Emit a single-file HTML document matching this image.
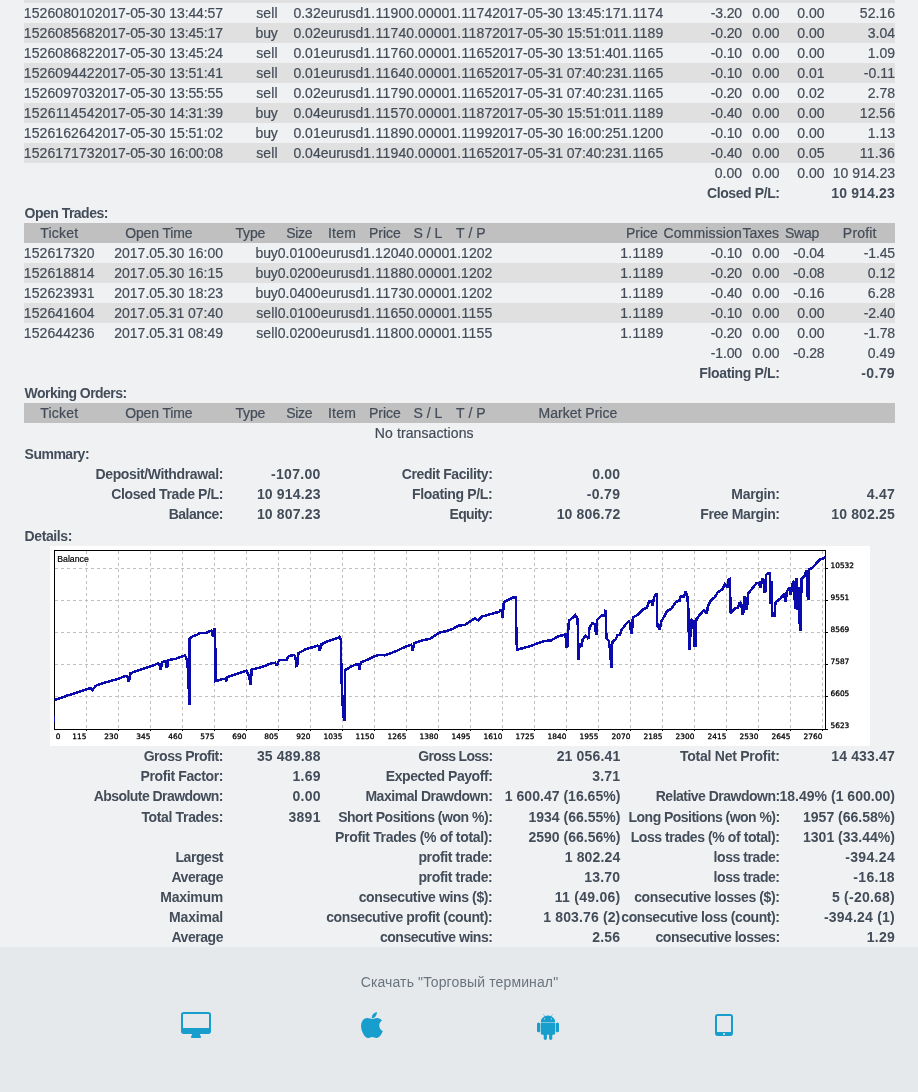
<!DOCTYPE html><html lang="ru"><head><meta charset="utf-8"><title>Statement</title><style>
html,body{margin:0;padding:0}
body{width:918px;height:1092px;overflow:hidden;background:#f0f1f3;position:relative;font-family:"Liberation Sans",sans-serif;font-size:14px;line-height:20px;color:#424b57}
#pg{position:absolute;left:0;top:0;width:918px;height:1092px;will-change:transform}
.s{position:absolute;left:24px;width:871px}
.t{position:absolute;white-space:pre;height:20px;-webkit-text-stroke:.22px #4a535e}
.b{font-weight:700;-webkit-text-stroke:0;color:#434d59}
.chart{position:absolute;left:50px;top:546px}
.ax{font-family:"DejaVu Sans",sans-serif;font-size:7.4px;fill:#000;stroke:#000;stroke-width:.3px}
.foot{position:absolute;left:0;top:947px;width:918px;height:145px;background:#e6e9ec}
.ft{position:absolute;top:972px;color:#6a747e;white-space:pre}
.ic{position:absolute;top:1011.9px;height:28px;fill:#179ecd}
</style></head><body><div id="pg">
<div class="s" style="top:0px;height:3px;background:#e0e0e0"></div>
<div class="s" style="top:23px;height:20px;background:#e0e0e0"></div>
<div class="s" style="top:63px;height:20px;background:#e0e0e0"></div>
<div class="s" style="top:103px;height:20px;background:#e0e0e0"></div>
<div class="s" style="top:143px;height:20px;background:#e0e0e0"></div>
<div class="s" style="top:223px;height:20px;background:#c0c0c0"></div>
<div class="s" style="top:263px;height:20px;background:#e0e0e0"></div>
<div class="s" style="top:303px;height:20px;background:#e0e0e0"></div>
<div class="s" style="top:403px;height:20px;background:#c0c0c0"></div>
<span class="t" style="left:23.87px;top:3px;letter-spacing:0.083px">152608010</span>
<span class="t" style="left:94.84px;top:3px;letter-spacing:-0.097px">2017-05-30 13:44:57</span>
<span class="t" style="left:256.23px;top:3px;letter-spacing:0.113px">sell</span>
<span class="t" style="left:293.4px;top:3px;letter-spacing:0.012px">0.32</span>
<span class="t" style="left:320.67px;top:3px;letter-spacing:-0.013px">eurusd</span>
<span class="t" style="left:363.35px;top:3px;letter-spacing:0.211px">1.1190</span>
<span class="t" style="left:406.35px;top:3px;letter-spacing:0.036px">0.0000</span>
<span class="t" style="left:449.35px;top:3px;letter-spacing:0.211px">1.1174</span>
<span class="t" style="left:492.24px;top:3px;letter-spacing:-0.097px">2017-05-30 13:45:17</span>
<span class="t" style="left:620.35px;top:3px;letter-spacing:0.211px">1.1174</span>
<span class="t" style="left:710.83px;top:3px;letter-spacing:-0.150px">-3.20</span>
<span class="t" style="left:752.3px;top:3px;letter-spacing:0.012px">0.00</span>
<span class="t" style="left:797.2px;top:3px;letter-spacing:0.012px">0.00</span>
<span class="t" style="left:859.83px;top:3px;letter-spacing:0.025px">52.16</span>
<span class="t" style="left:23.87px;top:23px;letter-spacing:0.083px">152608568</span>
<span class="t" style="left:94.84px;top:23px;letter-spacing:-0.097px">2017-05-30 13:45:17</span>
<span class="t" style="left:255.5px;top:23px;letter-spacing:-0.125px">buy</span>
<span class="t" style="left:293.4px;top:23px;letter-spacing:0.012px">0.02</span>
<span class="t" style="left:320.67px;top:23px;letter-spacing:-0.013px">eurusd</span>
<span class="t" style="left:363.35px;top:23px;letter-spacing:0.211px">1.1174</span>
<span class="t" style="left:406.35px;top:23px;letter-spacing:0.036px">0.0000</span>
<span class="t" style="left:449.35px;top:23px;letter-spacing:0.211px">1.1187</span>
<span class="t" style="left:492.24px;top:23px;letter-spacing:-0.097px">2017-05-30 15:51:01</span>
<span class="t" style="left:620.35px;top:23px;letter-spacing:0.211px">1.1189</span>
<span class="t" style="left:710.83px;top:23px;letter-spacing:-0.150px">-0.20</span>
<span class="t" style="left:752.3px;top:23px;letter-spacing:0.012px">0.00</span>
<span class="t" style="left:797.2px;top:23px;letter-spacing:0.012px">0.00</span>
<span class="t" style="left:867.7px;top:23px;letter-spacing:0.012px">3.04</span>
<span class="t" style="left:23.87px;top:43px;letter-spacing:0.083px">152608682</span>
<span class="t" style="left:94.84px;top:43px;letter-spacing:-0.097px">2017-05-30 13:45:24</span>
<span class="t" style="left:256.23px;top:43px;letter-spacing:0.113px">sell</span>
<span class="t" style="left:293.4px;top:43px;letter-spacing:0.012px">0.01</span>
<span class="t" style="left:320.67px;top:43px;letter-spacing:-0.013px">eurusd</span>
<span class="t" style="left:363.35px;top:43px;letter-spacing:0.211px">1.1176</span>
<span class="t" style="left:406.35px;top:43px;letter-spacing:0.036px">0.0000</span>
<span class="t" style="left:449.35px;top:43px;letter-spacing:0.211px">1.1165</span>
<span class="t" style="left:492.24px;top:43px;letter-spacing:-0.097px">2017-05-30 13:51:40</span>
<span class="t" style="left:620.35px;top:43px;letter-spacing:0.211px">1.1165</span>
<span class="t" style="left:710.83px;top:43px;letter-spacing:-0.150px">-0.10</span>
<span class="t" style="left:752.3px;top:43px;letter-spacing:0.012px">0.00</span>
<span class="t" style="left:797.2px;top:43px;letter-spacing:0.012px">0.00</span>
<span class="t" style="left:867.7px;top:43px;letter-spacing:0.012px">1.09</span>
<span class="t" style="left:23.87px;top:63px;letter-spacing:0.083px">152609442</span>
<span class="t" style="left:94.84px;top:63px;letter-spacing:-0.097px">2017-05-30 13:51:41</span>
<span class="t" style="left:256.23px;top:63px;letter-spacing:0.113px">sell</span>
<span class="t" style="left:293.4px;top:63px;letter-spacing:0.012px">0.01</span>
<span class="t" style="left:320.67px;top:63px;letter-spacing:-0.013px">eurusd</span>
<span class="t" style="left:363.35px;top:63px;letter-spacing:0.211px">1.1164</span>
<span class="t" style="left:406.35px;top:63px;letter-spacing:0.036px">0.0000</span>
<span class="t" style="left:449.35px;top:63px;letter-spacing:0.211px">1.1165</span>
<span class="t" style="left:492.24px;top:63px;letter-spacing:-0.097px">2017-05-31 07:40:23</span>
<span class="t" style="left:620.35px;top:63px;letter-spacing:0.211px">1.1165</span>
<span class="t" style="left:710.83px;top:63px;letter-spacing:-0.150px">-0.10</span>
<span class="t" style="left:752.3px;top:63px;letter-spacing:0.012px">0.00</span>
<span class="t" style="left:797.2px;top:63px;letter-spacing:0.012px">0.01</span>
<span class="t" style="left:863.83px;top:63px;letter-spacing:0.059px">-0.11</span>
<span class="t" style="left:23.87px;top:83px;letter-spacing:0.083px">152609703</span>
<span class="t" style="left:94.84px;top:83px;letter-spacing:-0.097px">2017-05-30 13:55:55</span>
<span class="t" style="left:256.23px;top:83px;letter-spacing:0.113px">sell</span>
<span class="t" style="left:293.4px;top:83px;letter-spacing:0.012px">0.02</span>
<span class="t" style="left:320.67px;top:83px;letter-spacing:-0.013px">eurusd</span>
<span class="t" style="left:363.35px;top:83px;letter-spacing:0.211px">1.1179</span>
<span class="t" style="left:406.35px;top:83px;letter-spacing:0.036px">0.0000</span>
<span class="t" style="left:449.35px;top:83px;letter-spacing:0.211px">1.1165</span>
<span class="t" style="left:492.24px;top:83px;letter-spacing:-0.097px">2017-05-31 07:40:23</span>
<span class="t" style="left:620.35px;top:83px;letter-spacing:0.211px">1.1165</span>
<span class="t" style="left:710.83px;top:83px;letter-spacing:-0.150px">-0.20</span>
<span class="t" style="left:752.3px;top:83px;letter-spacing:0.012px">0.00</span>
<span class="t" style="left:797.2px;top:83px;letter-spacing:0.012px">0.02</span>
<span class="t" style="left:867.7px;top:83px;letter-spacing:0.012px">2.78</span>
<span class="t" style="left:23.87px;top:103px;letter-spacing:0.198px">152611454</span>
<span class="t" style="left:94.84px;top:103px;letter-spacing:-0.097px">2017-05-30 14:31:39</span>
<span class="t" style="left:255.5px;top:103px;letter-spacing:-0.125px">buy</span>
<span class="t" style="left:293.4px;top:103px;letter-spacing:0.012px">0.04</span>
<span class="t" style="left:320.67px;top:103px;letter-spacing:-0.013px">eurusd</span>
<span class="t" style="left:363.35px;top:103px;letter-spacing:0.211px">1.1157</span>
<span class="t" style="left:406.35px;top:103px;letter-spacing:0.036px">0.0000</span>
<span class="t" style="left:449.35px;top:103px;letter-spacing:0.211px">1.1187</span>
<span class="t" style="left:492.24px;top:103px;letter-spacing:-0.097px">2017-05-30 15:51:01</span>
<span class="t" style="left:620.35px;top:103px;letter-spacing:0.211px">1.1189</span>
<span class="t" style="left:710.83px;top:103px;letter-spacing:-0.150px">-0.40</span>
<span class="t" style="left:752.3px;top:103px;letter-spacing:0.012px">0.00</span>
<span class="t" style="left:797.2px;top:103px;letter-spacing:0.012px">0.00</span>
<span class="t" style="left:859.83px;top:103px;letter-spacing:0.025px">12.56</span>
<span class="t" style="left:23.87px;top:123px;letter-spacing:0.083px">152616264</span>
<span class="t" style="left:94.84px;top:123px;letter-spacing:-0.097px">2017-05-30 15:51:02</span>
<span class="t" style="left:255.5px;top:123px;letter-spacing:-0.125px">buy</span>
<span class="t" style="left:293.4px;top:123px;letter-spacing:0.012px">0.01</span>
<span class="t" style="left:320.67px;top:123px;letter-spacing:-0.013px">eurusd</span>
<span class="t" style="left:363.35px;top:123px;letter-spacing:0.211px">1.1189</span>
<span class="t" style="left:406.35px;top:123px;letter-spacing:0.036px">0.0000</span>
<span class="t" style="left:449.35px;top:123px;letter-spacing:0.211px">1.1199</span>
<span class="t" style="left:492.24px;top:123px;letter-spacing:-0.097px">2017-05-30 16:00:25</span>
<span class="t" style="left:620.35px;top:123px;letter-spacing:0.036px">1.1200</span>
<span class="t" style="left:710.83px;top:123px;letter-spacing:-0.150px">-0.10</span>
<span class="t" style="left:752.3px;top:123px;letter-spacing:0.012px">0.00</span>
<span class="t" style="left:797.2px;top:123px;letter-spacing:0.012px">0.00</span>
<span class="t" style="left:867.7px;top:123px;letter-spacing:0.012px">1.13</span>
<span class="t" style="left:23.87px;top:143px;letter-spacing:0.083px">152617173</span>
<span class="t" style="left:94.84px;top:143px;letter-spacing:-0.097px">2017-05-30 16:00:08</span>
<span class="t" style="left:256.23px;top:143px;letter-spacing:0.113px">sell</span>
<span class="t" style="left:293.4px;top:143px;letter-spacing:0.012px">0.04</span>
<span class="t" style="left:320.67px;top:143px;letter-spacing:-0.013px">eurusd</span>
<span class="t" style="left:363.35px;top:143px;letter-spacing:0.211px">1.1194</span>
<span class="t" style="left:406.35px;top:143px;letter-spacing:0.036px">0.0000</span>
<span class="t" style="left:449.35px;top:143px;letter-spacing:0.211px">1.1165</span>
<span class="t" style="left:492.24px;top:143px;letter-spacing:-0.097px">2017-05-31 07:40:23</span>
<span class="t" style="left:620.35px;top:143px;letter-spacing:0.211px">1.1165</span>
<span class="t" style="left:710.83px;top:143px;letter-spacing:-0.150px">-0.40</span>
<span class="t" style="left:752.3px;top:143px;letter-spacing:0.012px">0.00</span>
<span class="t" style="left:797.2px;top:143px;letter-spacing:0.012px">0.05</span>
<span class="t" style="left:859.83px;top:143px;letter-spacing:0.234px">11.36</span>
<span class="t" style="left:714.7px;top:163px;letter-spacing:0.012px">0.00</span>
<span class="t" style="left:752.3px;top:163px;letter-spacing:0.012px">0.00</span>
<span class="t" style="left:797.2px;top:163px;letter-spacing:0.012px">0.00</span>
<span class="t" style="left:832.75px;top:163px;letter-spacing:-0.005px">10 914.23</span>
<span class="t b" style="left:706.98px;top:183px;letter-spacing:-0.399px">Closed P/L:</span>
<span class="t b" style="left:831.23px;top:183px;letter-spacing:0.163px">10 914.23</span>
<span class="t b" style="left:24.6px;top:203px;letter-spacing:-0.520px">Open Trades:</span>
<span class="t" style="left:40.32px;top:223px;letter-spacing:0.206px">Ticket</span>
<span class="t" style="left:125.19px;top:223px;letter-spacing:-0.130px">Open Time</span>
<span class="t" style="left:235.46px;top:223px;letter-spacing:-0.145px">Type</span>
<span class="t" style="left:286.21px;top:223px;letter-spacing:-0.312px">Size</span>
<span class="t" style="left:328px;top:223px;letter-spacing:0.215px">Item</span>
<span class="t" style="left:369.03px;top:223px;letter-spacing:-0.034px">Price</span>
<span class="t" style="left:413.61px;top:223px;letter-spacing:-0.044px">S / L</span>
<span class="t" style="left:456.08px;top:223px;letter-spacing:0.066px">T / P</span>
<span class="t" style="left:626.03px;top:223px;letter-spacing:-0.034px">Price</span>
<span class="t" style="left:663.38px;top:223px;letter-spacing:0.163px">Commission</span>
<span class="t" style="left:742.47px;top:223px;letter-spacing:0.016px">Taxes</span>
<span class="t" style="left:784.89px;top:223px;letter-spacing:-0.180px">Swap</span>
<span class="t" style="left:842.87px;top:223px;letter-spacing:0.180px">Profit</span>
<span class="t" style="left:23.87px;top:243px;letter-spacing:0.083px">152617320</span>
<span class="t" style="left:114.33px;top:243px;letter-spacing:-0.021px">2017.05.30 16:00</span>
<span class="t" style="left:255.5px;top:243px;letter-spacing:-0.125px">buy</span>
<span class="t" style="left:277.65px;top:243px;letter-spacing:0.036px">0.0100</span>
<span class="t" style="left:320.67px;top:243px;letter-spacing:-0.013px">eurusd</span>
<span class="t" style="left:363.35px;top:243px;letter-spacing:0.036px">1.1204</span>
<span class="t" style="left:406.35px;top:243px;letter-spacing:0.036px">0.0000</span>
<span class="t" style="left:449.35px;top:243px;letter-spacing:0.036px">1.1202</span>
<span class="t" style="left:620.35px;top:243px;letter-spacing:0.211px">1.1189</span>
<span class="t" style="left:710.83px;top:243px;letter-spacing:-0.150px">-0.10</span>
<span class="t" style="left:752.3px;top:243px;letter-spacing:0.012px">0.00</span>
<span class="t" style="left:793.33px;top:243px;letter-spacing:-0.150px">-0.04</span>
<span class="t" style="left:863.83px;top:243px;letter-spacing:-0.150px">-1.45</span>
<span class="t" style="left:23.87px;top:263px;letter-spacing:0.083px">152618814</span>
<span class="t" style="left:114.33px;top:263px;letter-spacing:-0.021px">2017.05.30 16:15</span>
<span class="t" style="left:255.5px;top:263px;letter-spacing:-0.125px">buy</span>
<span class="t" style="left:277.65px;top:263px;letter-spacing:0.036px">0.0200</span>
<span class="t" style="left:320.67px;top:263px;letter-spacing:-0.013px">eurusd</span>
<span class="t" style="left:363.35px;top:263px;letter-spacing:0.211px">1.1188</span>
<span class="t" style="left:406.35px;top:263px;letter-spacing:0.036px">0.0000</span>
<span class="t" style="left:449.35px;top:263px;letter-spacing:0.036px">1.1202</span>
<span class="t" style="left:620.35px;top:263px;letter-spacing:0.211px">1.1189</span>
<span class="t" style="left:710.83px;top:263px;letter-spacing:-0.150px">-0.20</span>
<span class="t" style="left:752.3px;top:263px;letter-spacing:0.012px">0.00</span>
<span class="t" style="left:793.33px;top:263px;letter-spacing:-0.150px">-0.08</span>
<span class="t" style="left:867.7px;top:263px;letter-spacing:0.012px">0.12</span>
<span class="t" style="left:23.87px;top:283px;letter-spacing:0.083px">152623931</span>
<span class="t" style="left:114.33px;top:283px;letter-spacing:-0.021px">2017.05.30 18:23</span>
<span class="t" style="left:255.5px;top:283px;letter-spacing:-0.125px">buy</span>
<span class="t" style="left:277.65px;top:283px;letter-spacing:0.036px">0.0400</span>
<span class="t" style="left:320.67px;top:283px;letter-spacing:-0.013px">eurusd</span>
<span class="t" style="left:363.35px;top:283px;letter-spacing:0.211px">1.1173</span>
<span class="t" style="left:406.35px;top:283px;letter-spacing:0.036px">0.0000</span>
<span class="t" style="left:449.35px;top:283px;letter-spacing:0.036px">1.1202</span>
<span class="t" style="left:620.35px;top:283px;letter-spacing:0.211px">1.1189</span>
<span class="t" style="left:710.83px;top:283px;letter-spacing:-0.150px">-0.40</span>
<span class="t" style="left:752.3px;top:283px;letter-spacing:0.012px">0.00</span>
<span class="t" style="left:793.33px;top:283px;letter-spacing:-0.150px">-0.16</span>
<span class="t" style="left:867.7px;top:283px;letter-spacing:0.012px">6.28</span>
<span class="t" style="left:23.87px;top:303px;letter-spacing:0.083px">152641604</span>
<span class="t" style="left:114.33px;top:303px;letter-spacing:-0.021px">2017.05.31 07:40</span>
<span class="t" style="left:256.23px;top:303px;letter-spacing:0.113px">sell</span>
<span class="t" style="left:277.65px;top:303px;letter-spacing:0.036px">0.0100</span>
<span class="t" style="left:320.67px;top:303px;letter-spacing:-0.013px">eurusd</span>
<span class="t" style="left:363.35px;top:303px;letter-spacing:0.211px">1.1165</span>
<span class="t" style="left:406.35px;top:303px;letter-spacing:0.036px">0.0000</span>
<span class="t" style="left:449.35px;top:303px;letter-spacing:0.211px">1.1155</span>
<span class="t" style="left:620.35px;top:303px;letter-spacing:0.211px">1.1189</span>
<span class="t" style="left:710.83px;top:303px;letter-spacing:-0.150px">-0.10</span>
<span class="t" style="left:752.3px;top:303px;letter-spacing:0.012px">0.00</span>
<span class="t" style="left:797.2px;top:303px;letter-spacing:0.012px">0.00</span>
<span class="t" style="left:863.83px;top:303px;letter-spacing:-0.150px">-2.40</span>
<span class="t" style="left:23.87px;top:323px;letter-spacing:0.083px">152644236</span>
<span class="t" style="left:114.33px;top:323px;letter-spacing:-0.021px">2017.05.31 08:49</span>
<span class="t" style="left:256.23px;top:323px;letter-spacing:0.113px">sell</span>
<span class="t" style="left:277.65px;top:323px;letter-spacing:0.036px">0.0200</span>
<span class="t" style="left:320.67px;top:323px;letter-spacing:-0.013px">eurusd</span>
<span class="t" style="left:363.35px;top:323px;letter-spacing:0.211px">1.1180</span>
<span class="t" style="left:406.35px;top:323px;letter-spacing:0.036px">0.0000</span>
<span class="t" style="left:449.35px;top:323px;letter-spacing:0.211px">1.1155</span>
<span class="t" style="left:620.35px;top:323px;letter-spacing:0.211px">1.1189</span>
<span class="t" style="left:710.83px;top:323px;letter-spacing:-0.150px">-0.20</span>
<span class="t" style="left:752.3px;top:323px;letter-spacing:0.012px">0.00</span>
<span class="t" style="left:797.2px;top:323px;letter-spacing:0.012px">0.00</span>
<span class="t" style="left:863.83px;top:323px;letter-spacing:-0.150px">-1.78</span>
<span class="t" style="left:710.83px;top:343px;letter-spacing:-0.150px">-1.00</span>
<span class="t" style="left:752.3px;top:343px;letter-spacing:0.012px">0.00</span>
<span class="t" style="left:793.33px;top:343px;letter-spacing:-0.150px">-0.28</span>
<span class="t" style="left:867.7px;top:343px;letter-spacing:0.012px">0.49</span>
<span class="t b" style="left:699.3px;top:363px;letter-spacing:-0.344px">Floating P/L:</span>
<span class="t b" style="left:861.31px;top:363px;letter-spacing:0.353px">-0.79</span>
<span class="t b" style="left:24.6px;top:383px;letter-spacing:-0.551px">Working Orders:</span>
<span class="t" style="left:40.32px;top:403px;letter-spacing:0.206px">Ticket</span>
<span class="t" style="left:125.19px;top:403px;letter-spacing:-0.130px">Open Time</span>
<span class="t" style="left:235.46px;top:403px;letter-spacing:-0.145px">Type</span>
<span class="t" style="left:286.21px;top:403px;letter-spacing:-0.312px">Size</span>
<span class="t" style="left:328px;top:403px;letter-spacing:0.215px">Item</span>
<span class="t" style="left:369.03px;top:403px;letter-spacing:-0.034px">Price</span>
<span class="t" style="left:413.61px;top:403px;letter-spacing:-0.044px">S / L</span>
<span class="t" style="left:456.08px;top:403px;letter-spacing:0.066px">T / P</span>
<span class="t" style="left:538.52px;top:403px;letter-spacing:0.014px">Market Price</span>
<span class="t" style="left:374.78px;top:423px;letter-spacing:0.110px">No transactions</span>
<span class="t b" style="left:24.6px;top:444px;letter-spacing:-0.502px">Summary:</span>
<span class="t b" style="left:95.5px;top:464px;letter-spacing:-0.365px">Deposit/Withdrawal:</span>
<span class="t b" style="left:270.95px;top:464px;letter-spacing:0.324px">-107.00</span>
<span class="t b" style="left:401.79px;top:464px;letter-spacing:-0.415px">Credit Facility:</span>
<span class="t b" style="left:592.23px;top:464px;letter-spacing:0.230px">0.00</span>
<span class="t b" style="left:111.22px;top:484px;letter-spacing:-0.381px">Closed Trade P/L:</span>
<span class="t b" style="left:256.93px;top:484px;letter-spacing:0.163px">10 914.23</span>
<span class="t b" style="left:412.1px;top:484px;letter-spacing:-0.344px">Floating P/L:</span>
<span class="t b" style="left:586.71px;top:484px;letter-spacing:0.353px">-0.79</span>
<span class="t b" style="left:731.35px;top:484px;letter-spacing:-0.330px">Margin:</span>
<span class="t b" style="left:866.83px;top:484px;letter-spacing:0.230px">4.47</span>
<span class="t b" style="left:168.72px;top:504px;letter-spacing:-0.510px">Balance:</span>
<span class="t b" style="left:256.93px;top:504px;letter-spacing:0.163px">10 807.23</span>
<span class="t b" style="left:449.48px;top:504px;letter-spacing:-0.647px">Equity:</span>
<span class="t b" style="left:556.63px;top:504px;letter-spacing:0.163px">10 806.72</span>
<span class="t b" style="left:700.24px;top:504px;letter-spacing:-0.388px">Free Margin:</span>
<span class="t b" style="left:831.23px;top:504px;letter-spacing:0.163px">10 802.25</span>
<span class="t b" style="left:24.6px;top:525.5px;letter-spacing:-0.393px">Details:</span>
<span class="t b" style="left:143.7px;top:746px;letter-spacing:-0.483px">Gross Profit:</span>
<span class="t b" style="left:256.93px;top:746px;letter-spacing:0.163px">35 489.88</span>
<span class="t b" style="left:418.37px;top:746px;letter-spacing:-0.697px">Gross Loss:</span>
<span class="t b" style="left:556.63px;top:746px;letter-spacing:0.163px">21 056.41</span>
<span class="t b" style="left:680.07px;top:746px;letter-spacing:-0.261px">Total Net Profit:</span>
<span class="t b" style="left:831.23px;top:746px;letter-spacing:0.163px">14 433.47</span>
<span class="t b" style="left:140.62px;top:766px;letter-spacing:-0.394px">Profit Factor:</span>
<span class="t b" style="left:292.53px;top:766px;letter-spacing:0.230px">1.69</span>
<span class="t b" style="left:385.85px;top:766px;letter-spacing:-0.440px">Expected Payoff:</span>
<span class="t b" style="left:592.23px;top:766px;letter-spacing:0.230px">3.71</span>
<span class="t b" style="left:93.67px;top:786px;letter-spacing:-0.550px">Absolute Drawdown:</span>
<span class="t b" style="left:292.53px;top:786px;letter-spacing:0.230px">0.00</span>
<span class="t b" style="left:365.38px;top:786px;letter-spacing:-0.446px">Maximal Drawdown:</span>
<span class="t b" style="left:504.84px;top:786px;letter-spacing:0.021px">1 600.47 (16.65%)</span>
<span class="t b" style="left:655.76px;top:786px;letter-spacing:-0.510px">Relative Drawdown:</span>
<span class="t b" style="left:779.44px;top:786px;letter-spacing:0.021px">18.49% (1 600.00)</span>
<span class="t b" style="left:141.38px;top:807px;letter-spacing:-0.344px">Total Trades:</span>
<span class="t b" style="left:288.56px;top:807px;letter-spacing:0.246px">3891</span>
<span class="t b" style="left:338.13px;top:807px;letter-spacing:-0.475px">Short Positions (won %):</span>
<span class="t b" style="left:528.43px;top:807px;letter-spacing:0.010px">1934 (66.55%)</span>
<span class="t b" style="left:628.58px;top:807px;letter-spacing:-0.535px">Long Positions (won %):</span>
<span class="t b" style="left:803.03px;top:807px;letter-spacing:0.010px">1957 (66.58%)</span>
<span class="t b" style="left:335.09px;top:827px;letter-spacing:-0.339px">Profit Trades (% of total):</span>
<span class="t b" style="left:528.43px;top:827px;letter-spacing:0.010px">2590 (66.56%)</span>
<span class="t b" style="left:630.65px;top:827px;letter-spacing:-0.421px">Loss trades (% of total):</span>
<span class="t b" style="left:803.03px;top:827px;letter-spacing:0.010px">1301 (33.44%)</span>
<span class="t b" style="left:175.44px;top:847px;letter-spacing:-0.431px">Largest</span>
<span class="t b" style="left:418.43px;top:847px;letter-spacing:-0.353px">profit trade:</span>
<span class="t b" style="left:564.67px;top:847px;letter-spacing:0.154px">1 802.24</span>
<span class="t b" style="left:713.6px;top:847px;letter-spacing:-0.438px">loss trade:</span>
<span class="t b" style="left:845.25px;top:847px;letter-spacing:0.324px">-394.24</span>
<span class="t b" style="left:171.42px;top:867px;letter-spacing:-0.453px">Average</span>
<span class="t b" style="left:418.43px;top:867px;letter-spacing:-0.353px">profit trade:</span>
<span class="t b" style="left:584.2px;top:867px;letter-spacing:0.231px">13.70</span>
<span class="t b" style="left:713.6px;top:867px;letter-spacing:-0.438px">loss trade:</span>
<span class="t b" style="left:853.28px;top:867px;letter-spacing:0.336px">-16.18</span>
<span class="t b" style="left:160.33px;top:887px;letter-spacing:-0.272px">Maximum</span>
<span class="t b" style="left:358.68px;top:887px;letter-spacing:-0.375px">consecutive wins ($):</span>
<span class="t b" style="left:554.85px;top:887px;letter-spacing:0.248px">11 (49.06)</span>
<span class="t b" style="left:634.18px;top:887px;letter-spacing:-0.376px">consecutive losses ($):</span>
<span class="t b" style="left:831.97px;top:887px;letter-spacing:0.233px">5 (-20.68)</span>
<span class="t b" style="left:169.09px;top:907px;letter-spacing:-0.192px">Maximal</span>
<span class="t b" style="left:326.15px;top:907px;letter-spacing:-0.382px">consecutive profit (count):</span>
<span class="t b" style="left:543.34px;top:907px;letter-spacing:0.130px">1 803.76 (2)</span>
<span class="t b" style="left:621.33px;top:907px;letter-spacing:-0.422px">consecutive loss (count):</span>
<span class="t b" style="left:823.94px;top:907px;letter-spacing:0.234px">-394.24 (1)</span>
<span class="t b" style="left:171.42px;top:927px;letter-spacing:-0.453px">Average</span>
<span class="t b" style="left:380.01px;top:927px;letter-spacing:-0.483px">consecutive wins:</span>
<span class="t b" style="left:592.23px;top:927px;letter-spacing:0.230px">2.56</span>
<span class="t b" style="left:655.49px;top:927px;letter-spacing:-0.471px">consecutive losses:</span>
<span class="t b" style="left:866.83px;top:927px;letter-spacing:0.230px">1.29</span>
<svg class="chart" width="820" height="200" viewBox="0 0 820 200"><rect width="820" height="200" fill="#fff"/><path d="M36.5 5V183M68.5 5V183M100.5 5V183M132.5 5V183M164.5 5V183M196.5 5V183M228.5 5V183M260.5 5V183M292.5 5V183M324.5 5V183M356.5 5V183M388.5 5V183M420.5 5V183M452.5 5V183M484.5 5V183M516.5 5V183M548.5 5V183M580.5 5V183M612.5 5V183M644.5 5V183M676.5 5V183M708.5 5V183M740.5 5V183M772.5 5V183M5 22.5H775M5 54.5H775M5 86.5H775M5 118.5H775M5 150.5H775" stroke="#c0c0c0" stroke-width="1" stroke-dasharray="3 3" fill="none" shape-rendering="crispEdges"/><path d="M4.5 4.5H775.5V183.5H4.5ZM36.5 183V185M68.5 183V185M100.5 183V185M132.5 183V185M164.5 183V185M196.5 183V185M228.5 183V185M260.5 183V185M292.5 183V185M324.5 183V185M356.5 183V185M388.5 183V185M420.5 183V185M452.5 183V185M484.5 183V185M516.5 183V185M548.5 183V185M580.5 183V185M612.5 183V185M644.5 183V185M676.5 183V185M708.5 183V185M740.5 183V185M772.5 183V185M775 22.5H778M775 54.5H778M775 86.5H778M775 118.5H778M775 150.5H778M775 183.5H778" stroke="#000" stroke-width="1" fill="none" shape-rendering="crispEdges"/><path d="M4.5,154.2 17.4,149.5 36.6,143.4 40.4,142.0 42.2,144.3 45.7,139.8 55.8,136.3 68.5,132.8 75.8,129.8 77.6,130.5 78.1,135.0 79.0,135.0 80.5,127.2 90.6,123.7 100.6,120.2 108.1,117.6 109.6,118.5 110.2,123.2 111.0,123.2 111.9,115.9 115.6,115.5 116.4,121.1 117.2,121.1 118.2,114.1 125.5,112.9 135.1,109.4 136.8,114.1 138.0,123.7 138.9,146.4 139.0,158.2 139.8,158.2 139.6,92.3 142.9,90.1 145.7,89.4 149.9,87.1 156.1,86.8 161.4,84.5 162.8,90.3 164.3,83.5 164.9,82.4 165.4,109.8 165.7,135.0 171.8,133.3 175.6,132.6 176.2,135.6 177.1,131.0 185.8,128.4 196.2,124.6 199.4,130.7 200.2,137.3 201.0,137.3 201.5,123.7 211.9,121.1 220.6,117.6 225.0,116.7 226.7,119.4 229.3,114.1 236.3,114.1 238.9,110.1 244.2,108.9 245.6,112.0 246.4,120.2 247.2,120.0 248.5,107.2 255.5,103.3 267.7,99.7 269.0,100.5 269.8,105.1 271.5,98.4 278.1,95.0 287.9,91.9 289.3,90.7 291.0,93.7 291.4,129.4 292.8,160.8 293.9,173.8 294.7,173.8 294.9,124.2 301.8,120.2 307.1,118.1 308.7,119.0 309.3,123.8 310.9,116.3 317.5,113.7 324.5,110.2 329.7,108.8 334.9,109.4 347.1,104.7 356.7,100.1 361.1,98.9 361.9,100.0 362.5,105.0 364.2,97.2 373.3,94.2 380.3,92.8 389.0,86.7 395.9,85.3 402.9,82.9 408.2,79.7 415.1,78.9 420.0,75.4 424.9,72.5 428.3,74.5 431.8,70.7 442.3,67.6 449.3,65.8 450.7,63.2 452.0,66.0 452.7,71.9 453.8,56.2 459.7,53.3 463.2,51.5 466.2,51.5 466.2,78.0 466.9,103.8 473.7,101.9 480.6,100.2 487.6,97.2 494.6,94.9 500.7,94.6 508.5,90.2 515.5,88.5 516.5,100.3 517.3,100.3 518.1,86.7 519.0,74.5 522.5,71.9 525.1,69.0 527.7,72.8 528.2,112.9 529.0,112.9 529.4,97.2 531.5,100.7 532.6,93.7 535.5,89.4 538.5,92.8 539.5,81.5 542.5,77.2 545.1,78.0 545.9,87.6 546.7,87.6 547.2,73.7 551.8,69.4 554.4,69.8 555.7,63.7 556.4,92.4 558.8,95.0 560.5,106.4 561.0,120.3 561.8,120.3 562.3,95.9 565.8,93.3 567.5,89.3 570.1,88.9 571.4,84.1 575.4,78.8 578.8,75.4 580.1,77.6 581.1,87.2 581.9,87.2 582.9,71.5 587.6,68.9 593.7,62.8 597.1,61.9 598.9,55.5 601.5,55.5 602.7,59.7 604.1,50.9 606.7,47.5 607.3,79.4 609.7,83.7 611.1,75.9 614.6,69.8 616.7,65.4 621.6,62.5 623.3,59.7 625.9,55.8 629.4,55.0 630.6,50.3 634.1,50.9 635.5,45.4 637.2,49.7 638.6,66.3 638.9,103.2 639.7,103.2 641.1,73.3 643.3,75.0 644.7,99.4 645.5,99.4 646.3,73.3 649.4,69.4 653.8,64.2 656.8,67.2 658.1,59.7 660.8,54.4 665.1,50.9 667.7,46.2 672.2,43.6 674.9,38.0 677.5,41.5 678.7,33.1 680.1,32.8 680.4,67.1 685.3,62.4 687.9,61.9 689.7,56.1 691.4,58.4 692.4,67.6 693.2,67.6 694.4,50.5 695.8,52.3 696.2,62.7 697.0,62.7 698.0,47.9 702.7,41.8 706.2,37.5 708.8,36.9 710.6,41.8 712.3,32.2 714.1,34.9 714.5,45.3 715.3,45.3 716.2,28.8 718.4,27.0 720.2,27.0 720.1,56.6 720.9,56.6 721.6,35.0 722.3,69.4 724.5,69.4 725.4,56.6 730.6,52.3 734.1,47.9 735.1,54.4 735.9,54.4 736.7,46.2 739.0,41.8 740.3,47.9 741.1,47.9 742.0,39.2 744.2,34.9 745.0,61.9 745.8,61.9 746.7,32.2 747.7,62.7 748.5,62.7 748.9,41.0 749.9,83.7 750.7,83.7 751.5,33.1 755.0,29.6 756.3,24.4 757.1,31.4 757.8,52.3 758.6,52.3 759.2,23.5 762.0,21.8 765.5,18.3 769.8,13.6 773.3,12.5 775.6,11.3" stroke="#0a0aad" stroke-width="2.5" fill="none" stroke-linejoin="miter" stroke-miterlimit="2" stroke-linecap="butt" shape-rendering="crispEdges"/><path d="M4.5 170V176" stroke="#0a0aad" stroke-width="1" shape-rendering="crispEdges"/><text x="7.2" y="15.9" font-family="Liberation Sans, sans-serif" font-size="9.5" fill="#000" stroke="#000" stroke-width=".2" textLength="31.6" lengthAdjust="spacingAndGlyphs">Balance</text><text x="780.5" y="22.2" class="ax">10532</text><text x="780.5" y="54.2" class="ax">9551</text><text x="780.5" y="86.2" class="ax">8569</text><text x="780.5" y="118.2" class="ax">7587</text><text x="780.5" y="150.2" class="ax">6605</text><text x="780.5" y="182.2" class="ax">5623</text><text x="5.7" y="193.3" class="ax">0</text><text x="36.4" y="193.3" text-anchor="end" class="ax">115</text><text x="68.4" y="193.3" text-anchor="end" class="ax">230</text><text x="100.4" y="193.3" text-anchor="end" class="ax">345</text><text x="132.4" y="193.3" text-anchor="end" class="ax">460</text><text x="164.4" y="193.3" text-anchor="end" class="ax">575</text><text x="196.4" y="193.3" text-anchor="end" class="ax">690</text><text x="228.4" y="193.3" text-anchor="end" class="ax">805</text><text x="260.4" y="193.3" text-anchor="end" class="ax">920</text><text x="292.4" y="193.3" text-anchor="end" class="ax">1035</text><text x="324.4" y="193.3" text-anchor="end" class="ax">1150</text><text x="356.4" y="193.3" text-anchor="end" class="ax">1265</text><text x="388.4" y="193.3" text-anchor="end" class="ax">1380</text><text x="420.4" y="193.3" text-anchor="end" class="ax">1495</text><text x="452.4" y="193.3" text-anchor="end" class="ax">1610</text><text x="484.4" y="193.3" text-anchor="end" class="ax">1725</text><text x="516.4" y="193.3" text-anchor="end" class="ax">1840</text><text x="548.4" y="193.3" text-anchor="end" class="ax">1955</text><text x="580.4" y="193.3" text-anchor="end" class="ax">2070</text><text x="612.4" y="193.3" text-anchor="end" class="ax">2185</text><text x="644.4" y="193.3" text-anchor="end" class="ax">2300</text><text x="676.4" y="193.3" text-anchor="end" class="ax">2415</text><text x="708.4" y="193.3" text-anchor="end" class="ax">2530</text><text x="740.4" y="193.3" text-anchor="end" class="ax">2645</text><text x="772.4" y="193.3" text-anchor="end" class="ax">2760</text></svg>
<div class="foot"></div>
<span class="ft" style="left:360.7px;top:972px;letter-spacing:0.128px">Скачать "Торговый терминал"</span>
<svg class="ic" style="left:181.2px;width:30px" viewBox="-64 0 1920 1792"><path d="M1728 992v-832q0-13-9.5-22.5t-22.5-9.5h-1600q-13 0-22.5 9.5t-9.5 22.5v832q0 13 9.5 22.5t22.5 9.5h1600q13 0 22.5-9.5t9.5-22.5zM1856 160v1088q0 66-47 113t-113 47h-544q0 37 16 77.5t32 71t16 43.5q0 26-19 45t-45 19h-512q-26 0-45-19t-19-45q0-14 16-44t32-70t16-78h-544q-66 0-113-47t-47-113v-1088q0-66 47-113t113-47h1600q66 0 113 47t47 113z"/></svg>
<svg class="ic" style="left:361.2px;width:22px" viewBox="0 0 1408 1792"><path d="M1393 1215q-39 125-123 250q-129 196-257 196q-49 0-140-32q-86-32-151-32q-61 0-142 33q-81 34-132 34q-152 0-301-259q-147-261-147-503q0-228 113-374q113-144 284-144q72 0 177 30q104 30 138 30q45 0 143-34q102-34 173-34q119 0 213 65q52 36 104 100q-79 67-114 118q-65 94-65 207q0 124 69 223t158 126zM1017 42q0 61-29 136q-30 75-93 138q-54 54-108 72q-37 11-104 17q3-149 78-257q74-107 250-148q1 3 2.5 11t2.5 11q0 4 .5 10t.5 10z"/></svg>
<svg class="ic" style="left:536.8px;width:22px" viewBox="0 0 1408 1792"><path d="M493 483q16 0 27.5-11.5t11.5-27.5t-11.5-27.5t-27.5-11.5t-27 11.5t-11 27.5t11 27.5t27 11.5zM915 483q16 0 27-11.5t11-27.5t-11-27.5t-27-11.5t-27.5 11.5t-11.5 27.5t11.5 27.5t27.5 11.5zM103 667q42 0 72 30t30 72v430q0 43-29.5 73t-72.5 30t-73-30t-30-73v-430q0-42 30-72t73-30zM1163 686v666q0 46-32 78t-77 32h-75v227q0 43-30 73t-73 30t-73-30t-30-73v-227h-138v227q0 43-30 73t-73 30q-42 0-72-30t-30-73l-1-227h-74q-46 0-78-32t-32-78v-666h918zM931 281q107 55 171 153.5t64 215.5h-925q0-117 64-215.5t172-153.5l-71-131q-7-13 5-20q13-6 20 6l72 132q95-42 201-42t201 42l72-132q7-12 20-6q12 7 5 20zM1408 769v430q0 43-30 73t-73 30q-42 0-72-30t-30-73v-430q0-43 30-72.5t72-29.5q43 0 73 29.5t30 72.5z"/></svg>
<svg class="ic" style="left:714.5px;width:18px" viewBox="0 0 1152 1792"><path d="M640 1408q0-26-19-45t-45-19t-45 19t-19 45t19 45t45 19t45-19t19-45zM1024 1248v-960q0-13-9.5-22.5t-22.5-9.5h-832q-13 0-22.5 9.5t-9.5 22.5v960q0 13 9.5 22.5t22.5 9.5h832q13 0 22.5-9.5t9.5-22.5zM1152 288v1088q0 66-47 113t-113 47h-832q-66 0-113-47t-47-113v-1088q0-66 47-113t113-47h832q66 0 113 47t47 113z"/></svg>
</div></body></html>
